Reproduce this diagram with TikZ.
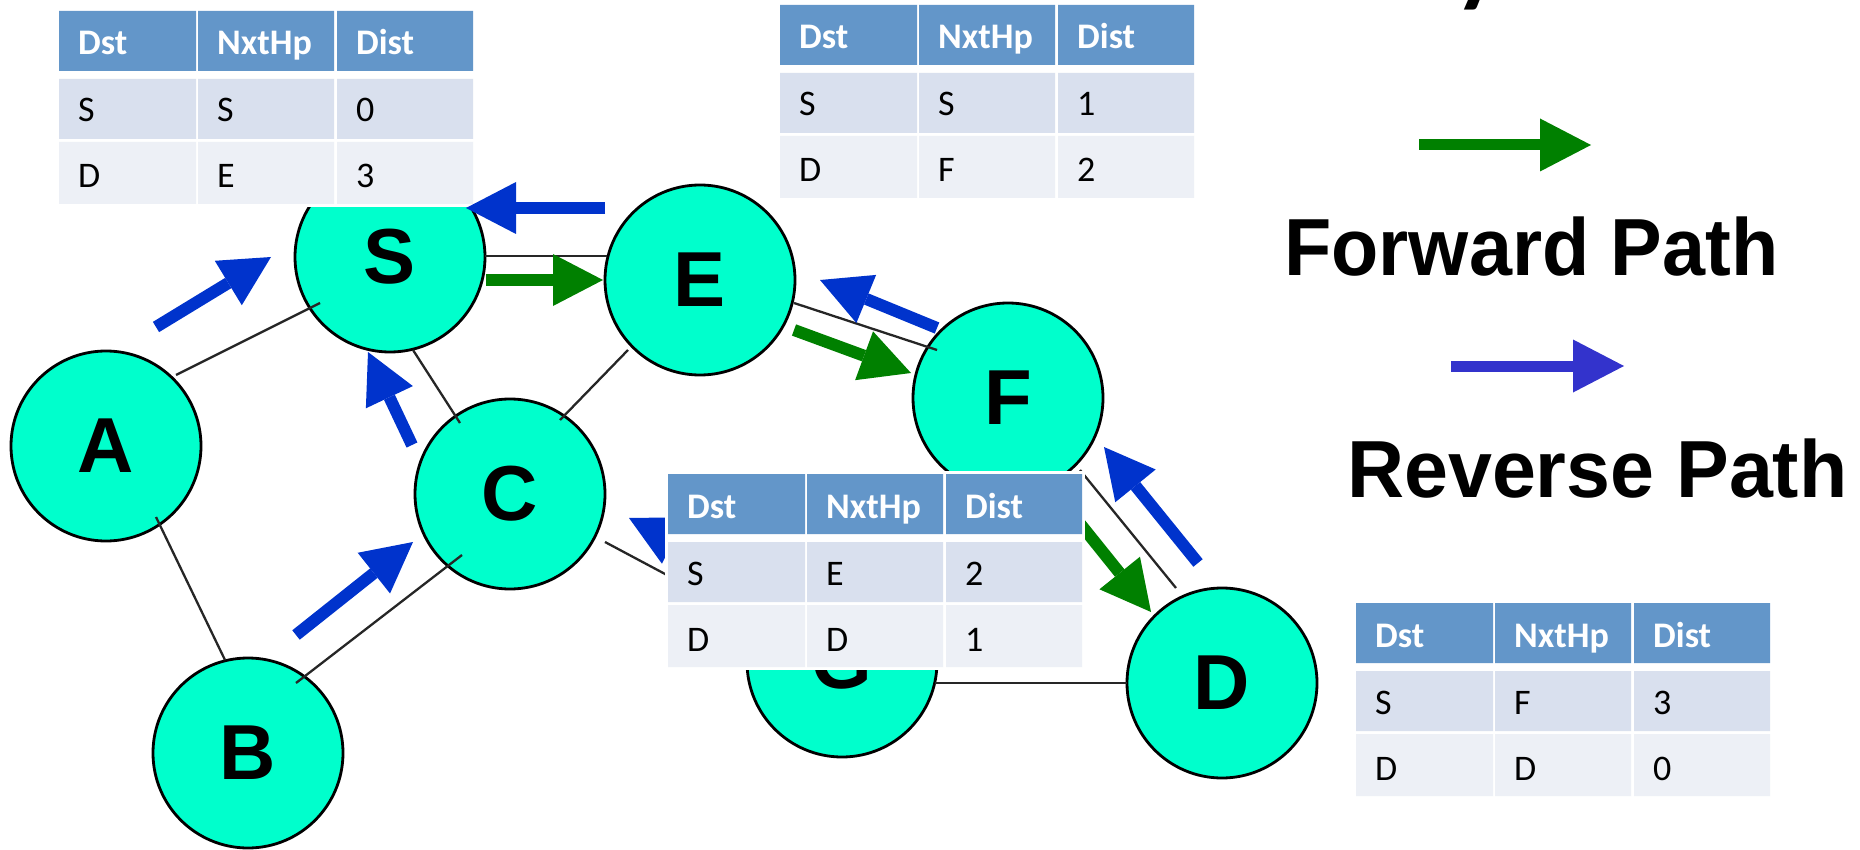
\documentclass[tikz,border=0pt]{standalone}
\usepackage{fontspec}
\setmainfont{Carlito}
\newfontfamily\lblfont{Liberation Sans}
\usetikzlibrary{arrows.meta}
\definecolor{nodecol}{RGB}{0,255,204}
\definecolor{revblue}{RGB}{0,51,204}
\definecolor{legblue}{RGB}{51,51,204}
\definecolor{fwdgreen}{RGB}{0,128,0}
\definecolor{hdrblue}{RGB}{99,150,201}
\definecolor{rowa}{RGB}{217,224,238}
\definecolor{rowb}{RGB}{237,240,246}
\tikzset{
 net/.style={circle, draw=black, line width=2.8pt, fill=nodecol, minimum size=190pt, inner sep=0pt,
   font=\lblfont\bfseries\fontsize{78}{78}\selectfont},
 link/.style={draw=black!85, line width=2.3pt},
 fwdarrow/.style={draw=fwdgreen, line width=12pt, -{Triangle[length=50pt,width=52pt,line width=0pt]}},
 revarrow/.style={draw=revblue, line width=12pt, -{Triangle[length=50pt,width=52pt,line width=0pt]}},
 legfwd/.style={draw=fwdgreen, line width=11pt, -{Triangle[length=51pt,width=53pt,line width=0pt]}},
 legrev/.style={draw=legblue, line width=11pt, -{Triangle[length=51pt,width=53pt,line width=0pt]}},
 hdrtxt/.style={anchor=base west, inner sep=0pt, text=white, font=\bfseries\fontsize{36}{36}\selectfont},
 celltxt/.style={anchor=base west, inner sep=0pt, text=black, font=\fontsize{36}{36}\selectfont},
 legtxt/.style={anchor=base west, inner sep=0pt, font=\lblfont\bfseries\fontsize{81}{81}\selectfont},
}
\newcommand{\rtable}[9]{%
\begin{scope}[shift={(#2,#3)}]
\fill[white] (-3,-3) rectangle (417,196);
\fill[hdrblue] (0,0) rectangle (137,60) (139,0) rectangle (275,60) (278,0) rectangle (414,60);
\fill[rowa] (0,68) rectangle (137,128) (139,68) rectangle (275,128) (278,68) rectangle (414,128);
\fill[rowb] (0,131) rectangle (137,193) (139,131) rectangle (275,193) (278,131) rectangle (414,193);
\node[hdrtxt] (#1h1) at (19,44) {Dst};
\node[hdrtxt] (#1h2) at (158,44) {NxtHp};
\node[hdrtxt] (#1h3) at (297,44) {Dist};
\node[celltxt] (#1a1) at (19,111) {#4};
\node[celltxt] (#1a2) at (158,111) {#5};
\node[celltxt] (#1a3) at (297,111) {#6};
\node[celltxt] (#1b1) at (19,177) {#7};
\node[celltxt] (#1b2) at (158,177) {#8};
\node[celltxt] (#1b3) at (297,177) {#9};
\end{scope}}
\begin{document}
\begin{tikzpicture}[x=1pt,y=-1pt]
\useasboundingbox (0,0) rectangle (1860,850);
% title fragment (cut off by the top edge)
\node[anchor=base west, inner sep=0pt, font=\fontsize{140}{140}\selectfont] (ttl) at (1449,-12) {y};
% nodes
\node[net] (A) at (106,446) {A};
\node[net] (S) at (390,257) {S};
\node[net] (E) at (700,280) {E};
\node[net] (C) at (510,494) {C};
\node[net] (B) at (248,753) {B};
\node[net] (F) at (1008,398) {F};
\node[net] (G) at (842,662) {G};
\node[net] (D) at (1222,683) {D};
% links
\draw[link] ([shift={(70,-71)}]A.center) -- ([shift={(-70,46)}]S.center);
\draw[link] ([shift={(23,93)}]S.center) -- ([shift={(-50,-71)}]C.center);
\draw[link] ([shift={(-72,70)}]E.center) -- ([shift={(50,-74)}]C.center);
\draw[link] ([shift={(95,-1)}]S.center) -- ([shift={(-93,-24)}]E.center);
\draw[link] ([shift={(94,23)}]E.center) -- ([shift={(-71,-48)}]F.center);
\draw[link] ([shift={(50,71)}]A.center) -- ([shift={(-23,-93)}]B.center);
\draw[link] ([shift={(48,-70)}]B.center) -- ([shift={(-48,61)}]C.center);
\draw[link] ([shift={(95,48)}]C.center) -- ([shift={(-85,-39)}]G.center);
\draw[link] ([shift={(93,21)}]G.center) -- ([shift={(-95,0)}]D.center);
\draw[link] ([shift={(72,72)}]F.center) -- ([shift={(-46,-95)}]D.center);
% arrow end points
\coordinate (r1a) at (156,327); \coordinate (r1b) at (271,257);
\coordinate (r2a) at (605,208); \coordinate (r2b) at (466,208);
\coordinate (r3a) at (412,445); \coordinate (r3b) at (368,352);
\coordinate (r4a) at (937,328); \coordinate (r4b) at (820,280);
\coordinate (r5a) at (296,635); \coordinate (r5b) at (413,542);
\coordinate (r6a) at (1198,563); \coordinate (r6b) at (1104,447);
\coordinate (r7a) at (754,581); \coordinate (r7b) at (629,518);
\coordinate (f1a) at (486,280); \coordinate (f1b) at (603,280);
\coordinate (f2a) at (794,330); \coordinate (f2b) at (911,373);
\coordinate (f3a) at (1057,495); \coordinate (f3b) at (1151,612);
\coordinate (lfa) at (1419,145); \coordinate (lfb) at (1591,145);
\coordinate (lra) at (1451,366); \coordinate (lrb) at (1624,366);
\draw[revarrow] (r1a) -- (r1b);
\draw[revarrow] (r3a) -- (r3b);
\draw[revarrow] (r4a) -- (r4b);
\draw[revarrow] (r5a) -- (r5b);
\draw[revarrow] (r6a) -- (r6b);
\draw[revarrow] (r7a) -- (r7b);
\draw[fwdarrow] (f1a) -- (f1b);
\draw[fwdarrow] (f2a) -- (f2b);
\draw[fwdarrow] (f3a) -- (f3b);
% tables
\rtable{ts}{59}{11}{S}{S}{0}{D}{E}{3}
\rtable{te}{780}{5}{S}{S}{1}{D}{F}{2}
\rtable{tf}{668}{474}{S}{E}{2}{D}{D}{1}
\rtable{td}{1356}{603}{S}{F}{3}{D}{D}{0}
\draw[revarrow] (r2a) -- (r2b);
% legend
\draw[legfwd] (lfa) -- (lfb);
\draw[legrev] (lra) -- (lrb);
\node[legtxt] (fwdlbl) at (1284,276) {\scalebox{0.955}[1]{Forward Path}};
\node[legtxt] (revlbl) at (1347,497) {\scalebox{0.975}[1]{Reverse Path}};
\end{tikzpicture}
\end{document}
